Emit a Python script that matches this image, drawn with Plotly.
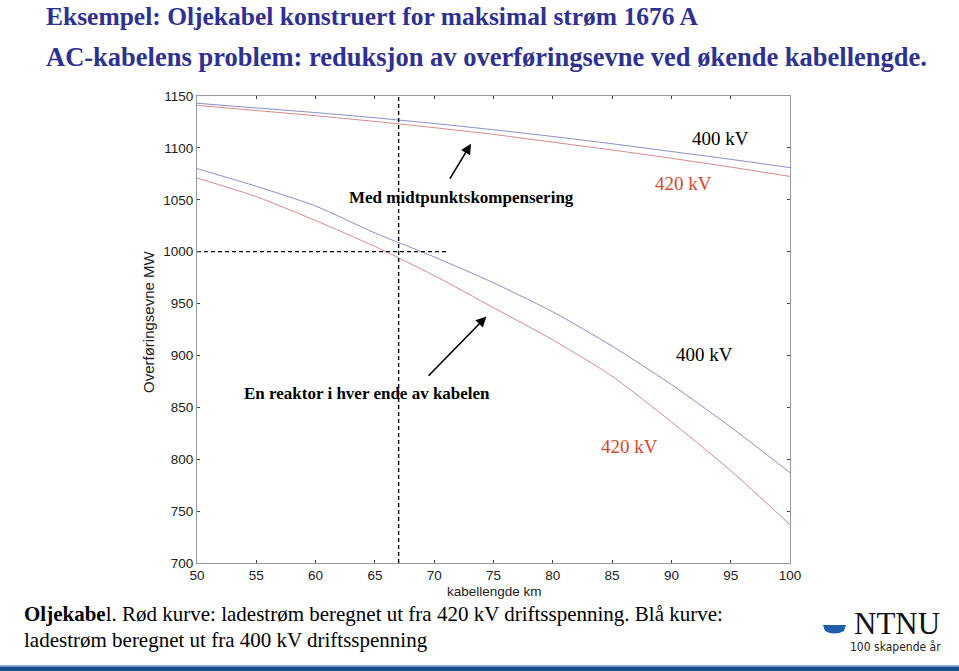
import plotly.graph_objects as go

# ---------------- data ----------------
km = [50, 55, 60, 65, 70, 75, 80, 85, 90, 95, 100]
# with midpoint compensation
mid_400kV = [1143, 1138.5, 1134, 1129, 1123.5, 1117.5, 1111, 1104, 1096.5, 1089, 1081]
mid_420kV = [1141, 1136, 1131, 1125.5, 1119.5, 1113, 1105.5, 1098, 1090, 1081.5, 1072.5]
# one reactor at each end
end_400kV = [1080, 1063, 1044, 1018, 995, 970, 942, 909, 872, 831, 787]
end_420kV = [1071, 1053, 1030, 1005, 977, 946, 915, 880, 836, 789, 737]

vline_x = [67, 67]
vline_y = [700, 1150]
hline_x = [50, 71]
hline_y = [1000, 1000]

x_ticks = [50, 55, 60, 65, 70, 75, 80, 85, 90, 95, 100]
y_ticks = [700, 750, 800, 850, 900, 950, 1000, 1050, 1100, 1150]

# ---------------- layout geometry ----------------
W_FIG, H_FIG = 959, 671
L, R, T, B = 197, 790, 96, 563
PW, PH = R - L, B - T


def pxx(p):
    return (p - L) / PW


def pxy(p):
    return (B - p) / PH


BLUE = "#8a8ec6"
RED = "#d58a8c"
NAVY = "#2e3192"
ORANGE_RED = "#d9472b"
SERIF = "Liberation Serif, Times New Roman, serif"
SANS = "Liberation Sans, Arial, sans-serif"

fig = go.Figure()
for y, c in [(mid_400kV, BLUE), (mid_420kV, RED), (end_400kV, BLUE), (end_420kV, RED)]:
    fig.add_trace(go.Scatter(x=km, y=y, mode="lines", line=dict(color=c, width=1, shape="spline", smoothing=0.6),
                             showlegend=False, hoverinfo="skip"))
fig.add_trace(go.Scatter(x=vline_x, y=vline_y, mode="lines",
                         line=dict(color="black", width=1.4, dash="4px,3px"), showlegend=False))
fig.add_trace(go.Scatter(x=hline_x, y=hline_y, mode="lines",
                         line=dict(color="black", width=1.4, dash="4px,3px"), showlegend=False))


def txt(x, y, text, font, ref="data", xanchor="center", angle=0):
    r = "x" if ref == "data" else "paper"
    ry = "y" if ref == "data" else "paper"
    return dict(x=x, y=y, xref=r, yref=ry, text=text, showarrow=False, font=font,
                xanchor=xanchor, yanchor="middle", textangle=angle)


ann = []
# in-plot labels
ann.append(txt(94.1, 1109, "400 kV", dict(family=SERIF, size=19, color="black")))
ann.append(txt(91.0, 1066, "420 kV", dict(family=SERIF, size=19, color=ORANGE_RED)))
ann.append(txt(72.3, 1052.5, "<b>Med midtpunktskompensering</b>", dict(family=SERIF, size=17, color="black")))
ann.append(txt(64.3, 863, "<b>En reaktor i hver ende av kabelen</b>", dict(family=SERIF, size=17, color="black")))
ann.append(txt(92.8, 900.5, "400 kV", dict(family=SERIF, size=19, color="black")))
ann.append(txt(86.5, 812, "420 kV", dict(family=SERIF, size=19, color=ORANGE_RED)))
# arrows
ann.append(dict(x=73.1, y=1104, ax=71.25, ay=1069, xref="x", yref="y", axref="x", ayref="y",
                text="", showarrow=True, arrowhead=2, arrowsize=1.3, arrowwidth=1.6, arrowcolor="black"))
ann.append(dict(x=74.4, y=937.5, ax=69.4, ay=879, xref="x", yref="y", axref="x", ayref="y",
                text="", showarrow=True, arrowhead=2, arrowsize=1.3, arrowwidth=1.6, arrowcolor="black"))
# axis titles
ann.append(txt(pxx(148), pxy(322), "Overføringsevne MW", dict(family=SANS, size=15, color="#222"),
               ref="paper", angle=-90))
ann.append(txt(pxx(494), pxy(591), "kabellengde km", dict(family=SANS, size=13.5, color="#222"), ref="paper"))
# slide titles
ann.append(txt(pxx(44), pxy(16), "<b>Eksempel: Oljekabel konstruert for maksimal strøm 1676 A</b>",
               dict(family=SERIF, size=25.5, color=NAVY), ref="paper", xanchor="left"))
ann.append(txt(pxx(44), pxy(57), "<b>AC-kabelens problem: reduksjon av overføringsevne ved økende kabellengde.</b>",
               dict(family=SERIF, size=26.5, color=NAVY), ref="paper", xanchor="left"))
# footer
ann.append(txt(pxx(22), pxy(614),
               "<b>Oljekabe</b>l. Rød kurve: ladestrøm beregnet ut fra 420 kV driftsspenning. Blå kurve:",
               dict(family=SERIF, size=21, color="black"), ref="paper", xanchor="left"))
ann.append(txt(pxx(22), pxy(640), "ladestrøm beregnet ut fra 400 kV driftsspenning",
               dict(family=SERIF, size=21, color="black"), ref="paper", xanchor="left"))
# logo
ann.append(txt(pxx(897), pxy(623), "NTNU", dict(family=SERIF, size=31, color="#111"), ref="paper"))
ann.append(txt(pxx(895), pxy(647), "100 skapende år",
               dict(family="DejaVu Sans Condensed, Liberation Sans Narrow, sans-serif", size=12, color="#222"),
               ref="paper"))

shapes = [
    dict(type="path", xref="paper", yref="paper",
         path=f"M {pxx(823)},{pxy(625)} L {pxx(846)},{pxy(625)} L {pxx(844)},{pxy(631)} "
              f"Q {pxx(834.5)},{pxy(636)} {pxx(825)},{pxy(631)} Z",
         fillcolor="#1f5ea8", line=dict(width=0)),
    dict(type="rect", xref="paper", yref="paper", x0=-0.5, x1=1.5, y0=pxy(665), y1=pxy(666.5),
         fillcolor="#8fb3d9", line=dict(width=0)),
    dict(type="rect", xref="paper", yref="paper", x0=-0.5, x1=1.5, y0=pxy(672), y1=pxy(666.5),
         fillcolor="#1a4f8f", line=dict(width=0)),
]

axis_common = dict(showgrid=False, zeroline=False, showline=True, linecolor="#9a9a9a", linewidth=1,
                   mirror="allticks", ticks="inside", ticklen=3, tickcolor="#444",
                   tickfont=dict(family=SANS, size=13.5, color="#222"))
fig.update_layout(
    width=W_FIG, height=H_FIG,
    margin=dict(l=L, r=W_FIG - R, t=T, b=H_FIG - B, pad=0),
    paper_bgcolor="white", plot_bgcolor="white",
    xaxis=dict(range=[50, 100], tickvals=x_ticks, **axis_common),
    yaxis=dict(range=[700, 1150], tickvals=y_ticks, **axis_common),
    annotations=ann, shapes=shapes, showlegend=False,
)
fig.write_html("out.html")
